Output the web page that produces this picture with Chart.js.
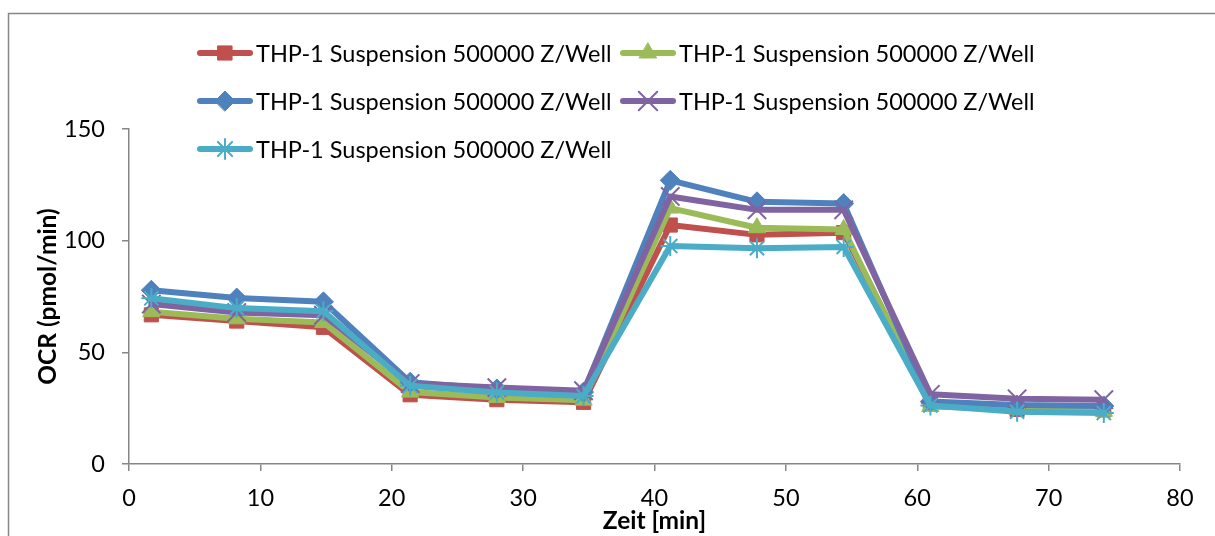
<!DOCTYPE html>
<html>
<head>
<meta charset="utf-8">
<script src="https://cdn.jsdelivr.net/npm/chart.js@4.4.1/dist/chart.umd.min.js"></script>
<style>
  body { margin: 0; background: #fff; }
  canvas { display: block; }
</style>
</head>
<body>
<canvas id="graph-ocr" width="1215" height="536"></canvas>
<script>
// Zeitpunkte der Messungen (min)
const zeiten = [1.7, 8.2, 14.8, 21.4, 28.0, 34.6, 41.2, 47.8, 54.4, 61.0, 67.6, 74.2];

const nomSerie = "THP-1 Suspension 500000 Z/Well";

const ocrRouge  = [66.8, 64.0, 61.2, 31.0, 28.8, 27.6, 107.0, 102.6, 103.6, 27.2, 24.4, 24.2];
const ocrVert   = [68.2, 65.0, 63.4, 32.2, 29.8, 28.6, 114.6, 105.8, 105.0, 25.8, 24.6, 23.6];
const ocrBleu   = [77.8, 74.3, 72.6, 36.6, 33.6, 32.2, 127.0, 117.4, 116.6, 28.0, 26.4, 26.0];
const ocrViolet = [71.6, 67.8, 66.6, 36.0, 34.2, 32.8, 119.8, 113.8, 113.8, 31.2, 29.2, 28.8];
const ocrCyan   = [74.2, 69.8, 68.4, 35.0, 32.0, 30.4, 97.6, 96.6, 97.2, 26.2, 23.4, 22.8];

const ticksY = [0, 50, 100, 150];
const ticksX = [0, 10, 20, 30, 40, 50, 60, 70, 80];

const police = "Lato";
const gris = "#868686";

function points(valeurs) {
  return valeurs.map((v, i) => ({ x: zeiten[i], y: v }));
}

function serie(valeurs, couleur, style, rayon, ordre) {
  const plein = style === "rect" || style === "rectRot" || style === "triangle";
  return {
    label: nomSerie,
    data: points(valeurs),
    borderColor: couleur,
    backgroundColor: couleur,
    borderWidth: 6,
    borderJoinStyle: "round",
    borderCapStyle: "round",
    pointStyle: style,
    pointRadius: rayon,
    pointBackgroundColor: plein ? couleur : "transparent",
    pointBorderColor: couleur,
    pointBorderWidth: plein ? 1 : 2,
    tension: 0,
    order: ordre
  };
}

// legende sur 2 colonnes comme dans Excel
const legendeExcel = {
  id: "legendeExcel",
  beforeDraw(chart) {
    const ctx = chart.ctx;
    ctx.save();
    ctx.strokeStyle = gris;
    ctx.lineWidth = 1.5;
    ctx.strokeRect(8.5, 13.5, 1220, 600);
    ctx.restore();
  },
  afterDraw(chart) {
    const ctx = chart.ctx;
    const colonnes = [197, 620];
    const lignes = [53, 101, 149];
    ctx.save();
    chart.data.datasets.forEach((ds, i) => {
      const x = colonnes[i % 2];
      const y = lignes[Math.floor(i / 2)];
      ctx.strokeStyle = ds.borderColor;
      ctx.lineWidth = 6;
      ctx.lineCap = "round";
      ctx.beginPath();
      ctx.moveTo(x + 3, y);
      ctx.lineTo(x + 53, y);
      ctx.stroke();
      ctx.fillStyle = ds.pointBackgroundColor;
      ctx.strokeStyle = ds.pointBorderColor;
      ctx.lineWidth = ds.pointBorderWidth;
      Chart.helpers.drawPoint(ctx, {
        pointStyle: ds.pointStyle,
        radius: ds.pointRadius,
        rotation: 0,
        borderWidth: ds.pointBorderWidth
      }, x + 28, y);
      ctx.fillStyle = "#000";
      ctx.font = "23.5px " + police;
      ctx.textBaseline = "middle";
      ctx.textAlign = "left";
      ctx.fillText(ds.label, x + 59, y + 1);
    });
    ctx.restore();
  }
};

const ctx = document.getElementById("graph-ocr").getContext("2d");
new Chart(ctx, {
  type: "line",
  data: {
    datasets: [
      serie(ocrRouge, "#C0504D", "rect", 10, 5),
      serie(ocrVert, "#9BBB59", "triangle", 10, 4),
      serie(ocrBleu, "#4F81BD", "rectRot", 10, 3),
      serie(ocrViolet, "#8064A2", "crossRot", 13, 2),
      serie(ocrCyan, "#4BACC6", "star", 10, 1)
    ]
  },
  options: {
    responsive: false,
    animation: false,
    layout: { padding: { top: 129, right: 35, bottom: 0, left: 0 } },
    plugins: {
      legend: { display: false },
      tooltip: { enabled: false }
    },
    scales: {
      x: {
        type: "linear",
        min: 0,
        max: 80,
        afterFit: s => { s.height = 72; },
        afterBuildTicks: s => { s.ticks = ticksX.map(v => ({ value: v })); },
        ticks: { color: "#000", font: { family: police, size: 23.5 }, padding: 13, maxRotation: 0 },
        grid: { drawOnChartArea: false, drawTicks: true, tickLength: 7, color: gris, lineWidth: 1.5 },
        border: { color: gris, width: 1.5 },
        title: {
          display: true,
          text: "Zeit [min]",
          color: "#000",
          font: { family: police, size: 24.5, weight: "bold" },
          padding: { top: 0, bottom: 0 }
        }
      },
      y: {
        min: 0,
        max: 150,
        afterFit: s => { s.width = 129; },
        afterBuildTicks: s => { s.ticks = ticksY.map(v => ({ value: v })); },
        ticks: { color: "#000", font: { family: police, size: 23.5 }, padding: 17 },
        grid: { drawOnChartArea: false, drawTicks: true, tickLength: 7, color: gris, lineWidth: 1.5 },
        border: { color: gris, width: 1.5 },
        title: {
          display: true,
          text: "OCR (pmol/min)",
          color: "#000",
          font: { family: police, size: 24.5, weight: "bold" },
          padding: { top: 33, bottom: 0 }
        }
      }
    }
  },
  plugins: [legendeExcel]
});
</script>
</body>
</html>
